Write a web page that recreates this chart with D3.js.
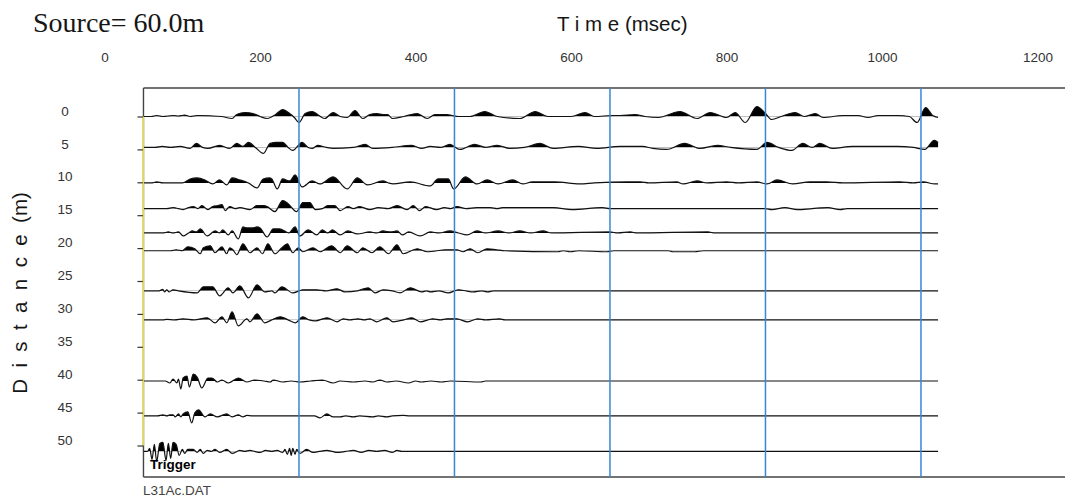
<!DOCTYPE html>
<html>
<head>
<meta charset="utf-8">
<script src="https://cdn.jsdelivr.net/npm/d3@7/dist/d3.min.js"></script>
<style>
  html, body { margin: 0; padding: 0; background: #fff; }
  svg { display: block; }
  .tick text { font-family: "Liberation Sans", Arial, sans-serif; font-size: 13.5px; fill: #333; }
</style>
</head>
<body>
<svg id="chart" width="1065" height="497"></svg>
<script>
// Time axis (ms) and distance axis (m)
const timeTicks = [0, 200, 400, 600, 800, 1000, 1200];
const distanceTicks = [0, 5, 10, 15, 20, 25, 30, 35, 40, 45, 50];
const triggerTime = 50;
const markerTimes = [250, 450, 650, 850, 1050];

// Receiver offsets of each trace (m)
const traceDistances = [0, 4.7, 10.1, 14.0, 17.7, 20.4, 26.5, 30.9, 40.2, 45.5, 50.9];

// Trace samples: [time ms, amplitude]
const trace0 = [[50,0],[60,0],[67,1],[75,0],[88,1],[95,0.5],[103,1.5],[110,0],[119,1],[150,0],[164,-2],[170,2],[181,4],[191,3],[200,0],[209,-2],[220,2],[229,7],[238,3],[244,-1],[250,-6],[258,3],[267,5],[274,2],[283,-2],[294,4],[303,0],[312,-1],[322,6],[332,-2],[341,2],[350,3],[358,2],[364,2],[370,-2],[385,0],[402,3],[415,-2],[425,2],[440,2],[447,1],[455,0],[470,0],[489,5],[505,0],[534,-2],[554,5],[570,0],[600,0],[618,4],[630,0],[654,1],[663,1],[682,2],[695,0],[712,-1],[740,5],[762,-2],[779,4],[800,-1],[811,4],[824,-6],[839,10],[850,3],[858,-3],[870,0],[888,4],[900,0],[914,3],[924,-1],[950,1],[969,1],[982,-1],[995,1],[1020,1],[1035,0],[1045,-6],[1056,9],[1065,1],[1072,-1]];
const trace1 = [[50,0],[65,0],[74,1],[85,0],[97,1],[110,-1],[118,4],[126,0],[133,-1],[148,2],[161,-1],[170,4],[178,1],[185,5],[194,0],[204,-6],[213,4],[221,5],[229,5],[236,0],[242,-3],[254,5],[262,0],[267,-1],[274,2],[285,0],[294,-1],[320,0],[335,3],[345,-1],[370,0],[395,2],[408,-1],[419,1],[432,0],[444,3],[457,-2],[476,3],[490,0],[505,2],[521,-1],[540,0],[560,4],[577,-1],[609,1],[633,-1],[663,1],[692,1],[705,-1],[723,-2],[746,4],[766,-1],[788,2],[805,0],[839,-2],[852,5],[867,0],[884,-3],[898,4],[910,0],[920,4],[936,-1],[962,1],[984,1],[1006,1],[1019,1],[1040,0],[1055,-2],[1067,7],[1072,5]];
const trace2 = [[50,0],[60,0],[67,1],[75,0],[100,0],[110,4],[119,5],[129,3],[139,-1],[148,3],[157,-2],[164,5],[174,3],[185,0],[196,-5],[204,4],[212,5],[215,4],[222,-6],[229,4],[238,2],[245,8],[254,-4],[267,2],[277,-1],[294,6],[312,-6],[325,5],[338,-2],[358,2],[365,0],[371,-1],[393,1],[419,-3],[429,4],[442,4],[449,-6],[464,6],[479,-1],[492,3],[506,-1],[525,3],[538,-1],[550,1],[564,1],[579,1],[611,-1],[630,0],[672,1],[689,1],[700,0],[736,1],[744,-1],[762,2],[775,0],[800,1],[815,0],[839,1],[852,-1],[865,3],[885,-1],[907,1],[929,1],[950,0],[1023,1],[1040,0],[1053,1],[1068,-1],[1072,-1]];
const trace3 = [[50,0],[80,0],[88,1],[95,0],[101,-1],[108,1],[114,2],[120,0],[125,3],[133,-1],[139,2],[146,3],[151,4],[155,-2],[161,2],[168,0],[174,1],[187,-1],[196,3],[205,3],[209,2],[219,-3],[229,8],[236,5],[247,-3],[255,6],[264,6],[271,-1],[280,0],[287,3],[296,3],[303,-2],[313,2],[320,0],[328,2],[341,-1],[352,1],[365,0],[376,3],[389,-1],[397,3],[405,-2],[413,2],[427,-1],[437,1],[445,0],[453,2],[465,0],[479,1],[496,1],[505,0],[512,1],[534,1],[577,1],[601,-1],[640,1],[650,0],[850,0],[858,-1],[875,1],[891,-1],[910,0],[930,1],[946,-1],[955,0],[1072,0]];
const trace4 = [[50,0],[75,0],[82,1],[88,0],[95,1],[101,-3],[108,0],[113,2],[118,1],[123,4],[132,-3],[142,2],[148,0],[152,3],[159,-2],[164,2],[172,-6],[178,6],[183,5],[190,5],[196,6],[200,5],[209,-4],[217,4],[225,4],[229,3],[237,0],[245,6],[251,-3],[262,3],[273,-2],[280,3],[287,0],[293,3],[303,-2],[313,2],[325,-1],[341,1],[350,0],[358,2],[368,1],[376,2],[383,-2],[391,1],[406,-3],[419,1],[430,0],[444,2],[455,0],[466,-2],[479,2],[490,0],[506,2],[520,0],[534,2],[548,0],[564,2],[575,0],[650,1],[660,0],[676,1],[685,0],[776,1],[785,0],[1072,0]];
const trace5 = [[50,0],[85,0],[92,1],[100,0],[107,4],[116,2],[123,-3],[127,3],[136,5],[142,-2],[151,4],[157,-3],[161,3],[165,1],[170,-4],[178,7],[187,-2],[196,3],[203,-3],[210,7],[219,-3],[228,3],[235,7],[242,-2],[249,3],[255,-1],[268,3],[277,-1],[292,5],[303,-2],[312,5],[325,-2],[332,3],[344,-2],[354,4],[365,-3],[376,6],[384,-3],[402,2],[415,-1],[440,1],[453,1],[461,-1],[470,2],[480,-2],[492,2],[504,1],[515,0],[583,-1],[590,0],[599,-1],[610,0],[646,-1],[655,0],[725,0],[731,-1],[744,-1],[759,-1],[770,0],[1072,0]];
const trace6 = [[50,0],[70,0],[75,1.5],[77,-1],[80,1],[83,-1],[88,1],[95,0],[119,-2],[127,4],[133,4],[139,4],[148,-5],[159,3],[165,-2],[174,5],[185,-7],[196,6],[206,-1],[215,0],[219,-2],[228,4],[242,-2],[255,1],[261,1],[273,1],[285,0],[299,2],[309,-1],[325,0],[339,3],[348,-2],[358,1],[370,0],[380,-2],[393,3],[408,-1],[414,0],[419,-1],[430,0],[442,-2],[455,1],[465,0],[474,-1],[485,0],[493,-1],[500,0],[1072,0]];
const trace7 = [[50,0],[75,0],[80,0.5],[90,0],[101,1],[115,0],[132,2],[142,-3],[151,3],[157,-3],[164,8],[172,-6],[183,1],[187,-2],[196,6],[206,-3],[215,0],[226,3],[236,0],[245,-3],[255,3],[263,0],[271,-1],[286,2],[299,-2],[307,1],[315,0],[326,1],[334,0],[341,1],[350,-2],[363,2],[371,-2],[385,0],[395,2],[406,-2],[422,1],[432,0],[440,1],[453,1],[467,-2],[480,1],[490,0],[508,1],[515,0],[1072,0]];
const trace8 = [[50,0],[78,0],[84,-2],[88,2],[93,-2],[95,2],[98,-8],[101,3],[106,5],[109,-6],[114,7],[119,4],[125,-7],[133,3],[138,3],[145,-1],[151,1],[159,-2],[172,3],[183,-1],[193,1],[205,0],[213,-1],[217,1],[229,-1],[240,0],[251,-1],[265,0],[280,1],[294,-2],[303,0],[320,-1],[335,0],[345,-1],[354,1],[363,-1],[375,0],[391,-2],[400,0],[407,-1],[420,0],[433,-1],[445,0],[484,-1],[490,0],[1072,0]];
const trace9 = [[50,0],[68,0],[75,1],[80,0],[84,1],[88,1],[91,-1],[95,2],[98,-1],[101,2],[107,4],[112,-7],[116,3],[121,6],[129,-1],[136,2],[145,-1],[157,2],[164,-1],[172,1],[178,-1],[183,0.5],[190,0],[270,0],[277,-2],[286,2],[294,-1],[303,-1],[310,0],[320,-1],[328,0],[345,-1],[352,0],[363,-1],[370,0],[384,0.5],[392,0],[1072,0]];
const trace10 = [[50,0],[55,0],[58,3],[61,-8],[64,7],[67,-10],[71,8],[75,9],[79,-9],[82,8],[85,-7],[88,9],[92,7],[96,-4],[100,2],[103,-2],[107,2],[114,2],[119,-1],[123,2],[127,-2],[132,1],[137,0],[142,2],[148,-1],[157,2],[164,-2],[174,1],[180,0],[187,1],[193,0],[200,-1],[207,1],[215,0],[222,1],[229,-1],[232,2],[235,-3],[238,3],[240,-4],[242,3],[245,-3],[247,2],[251,-2],[260,2],[268,-1],[276,0],[286,1],[293,0],[299,-1],[310,0],[320,1],[330,-1],[340,1],[350,0],[360,1],[370,-1],[376,1],[382,0],[1072,0]];

const traces = [trace0, trace1, trace2, trace3, trace4, trace5, trace6, trace7, trace8, trace9, trace10];

const svg = d3.select("#chart");
const W = 1065;

const x = d3.scaleLinear().domain([0, 1200]).range([104.6, 1037.6]);
const y = d3.scaleLinear().domain([0, 50]).range([116.5, 445.5]);
// amplitude -> pixel offset from the trace baseline
const amp = d3.scaleLinear().domain([-10, 10]).range([10, -10]);

const boxTop = 88, boxBottom = 477;
const x0 = x(triggerTime);

// titles
svg.append("text")
  .attr("x", 33).attr("y", 32)
  .style("font-family", "'Liberation Serif', 'Times New Roman', serif")
  .style("font-size", "28px").style("fill", "#161616")
  .text("Source= 60.0m");

svg.append("text")
  .attr("x", 557).attr("y", 31)
  .style("font-family", "'Liberation Sans', Arial, sans-serif")
  .style("font-size", "20.5px").style("fill", "#161616")
  .text("T i m e (msec)");

svg.append("text")
  .attr("transform", "translate(27,293) rotate(-90)")
  .attr("text-anchor", "middle")
  .style("font-family", "'Liberation Sans', Arial, sans-serif")
  .style("font-size", "20.5px").style("fill", "#161616")
  .style("white-space", "pre")
  .text("D  i  s  t  a  n  c  e  (m)");

// time axis labels along the top
const xAxis = svg.append("g")
  .attr("transform", "translate(0,62)")
  .call(d3.axisTop(x).tickValues(timeTicks).tickSize(0).tickPadding(0).tickFormat(d3.format("d")));
xAxis.select(".domain").remove();

// distance axis
const yAxis = svg.append("g")
  .attr("transform", `translate(${x0},0)`)
  .call(d3.axisLeft(y).tickValues(distanceTicks).tickSize(6).tickFormat(d3.format("d")));
yAxis.select(".domain").remove();
yAxis.selectAll(".tick line").attr("stroke", "#333").attr("stroke-width", 1.2);
yAxis.selectAll(".tick text")
  .attr("text-anchor", "middle")
  .attr("x", 65 - x0)
  .attr("dy", "-0.1em");

// frame
const frame = svg.append("g").attr("stroke", "#444").attr("stroke-width", 1.4).attr("fill", "none");
frame.append("line").attr("x1", x0).attr("x2", W).attr("y1", boxTop).attr("y2", boxTop);
frame.append("line").attr("x1", x0).attr("x2", W).attr("y1", boxBottom).attr("y2", boxBottom);
frame.append("line").attr("x1", x0).attr("x2", x0).attr("y1", boxTop).attr("y2", boxBottom);

// wiggle traces with filled positive lobes
const defs = svg.append("defs");
const tracesG = svg.append("g");
traces.forEach((tr, i) => {
  const base = y(traceDistances[i]);
  const id = "pos" + i;
  defs.append("clipPath").attr("id", id)
    .append("rect")
    .attr("x", x0 - 2).attr("width", W)
    .attr("y", base - 40).attr("height", 40);

  const area = d3.area()
    .x(d => x(d[0]))
    .y0(base)
    .y1(d => base + amp(d[1]))
    .curve(d3.curveMonotoneX);
  const line = d3.line()
    .x(d => x(d[0]))
    .y(d => base + amp(d[1]))
    .curve(d3.curveMonotoneX);

  tracesG.append("path")
    .datum(tr)
    .attr("d", area)
    .attr("clip-path", `url(#${id})`)
    .attr("fill", "#000");
  tracesG.append("path")
    .datum(tr)
    .attr("d", line)
    .attr("fill", "none")
    .attr("stroke", "#111")
    .attr("stroke-width", 1.2);
});

// time markers
svg.append("g").selectAll("line")
  .data(markerTimes)
  .join("line")
  .attr("x1", d => x(d)).attr("x2", d => x(d))
  .attr("y1", boxTop).attr("y2", boxBottom)
  .attr("stroke", "#3a86d6").attr("stroke-width", 1.5);

// trigger line
svg.append("line")
  .attr("x1", x0).attr("x2", x0)
  .attr("y1", y(0)).attr("y2", y(50))
  .attr("stroke", "#e6dc2a").attr("stroke-width", 1.3);

svg.append("text")
  .attr("x", 150).attr("y", 469)
  .style("font-family", "'Liberation Sans', Arial, sans-serif")
  .style("font-size", "13.5px").style("font-weight", "bold").style("fill", "#000")
  .text("Trigger");

svg.append("text")
  .attr("x", 143).attr("y", 495)
  .style("font-family", "'Liberation Sans', Arial, sans-serif")
  .style("font-size", "13.5px").style("fill", "#444")
  .text("L31Ac.DAT");
</script>
</body>
</html>
